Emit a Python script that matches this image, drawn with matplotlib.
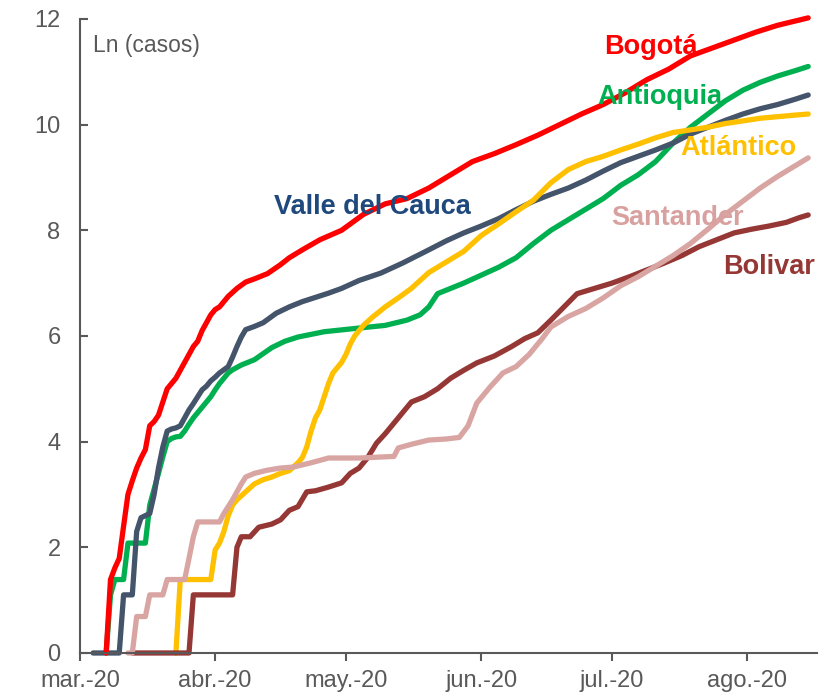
import numpy as np
import matplotlib
matplotlib.use("Agg")
import matplotlib.pyplot as plt

plt.rcParams['font.family'] = ['Liberation Sans', 'DejaVu Sans']

# days since 2020-03-01 and ln(cases)
bogota_days = [6, 7, 8, 9, 10, 11, 12, 13, 14, 15, 16, 17, 18, 19, 20, 21, 22, 23, 24, 25, 26, 27, 28, 29, 30,
               31, 32, 33, 34, 36, 38, 40, 43, 46, 48, 51, 55, 60, 65, 70, 75, 80, 85, 90, 95, 100, 105, 110,
               115, 120, 125, 130, 135, 140, 145, 150, 155, 160, 167]
bogota = [0, 1.39, 1.61, 1.79, 2.4, 3.0, 3.26, 3.5, 3.69, 3.85, 4.3, 4.38, 4.5, 4.75, 5.0, 5.1, 5.2, 5.35, 5.5,
          5.65, 5.8, 5.9, 6.1, 6.25, 6.4, 6.5, 6.55, 6.65, 6.75, 6.9, 7.02, 7.08, 7.18, 7.35, 7.48, 7.63, 7.82,
          8.0, 8.3, 8.5, 8.6, 8.8, 9.05, 9.3, 9.45, 9.62, 9.8, 10.0, 10.2, 10.38, 10.6, 10.85, 11.05, 11.3,
          11.45, 11.6, 11.75, 11.88, 12.02]

antioquia_days = [6, 7, 8, 9, 10, 11, 12, 13, 14, 15, 16, 17, 18, 19, 20, 21, 22, 23, 24, 25, 26, 27, 28, 29,
                  30, 31, 32, 33, 34, 35, 37, 40, 44, 47, 50, 56, 64, 70, 75, 78, 80, 82, 85, 88, 92, 96, 100,
                  104, 108, 112, 116, 120, 124, 128, 132, 136, 140, 144, 148, 152, 156, 160, 164, 167]
antioquia = [0, 1.1, 1.39, 1.39, 1.39, 2.08, 2.08, 2.08, 2.08, 2.08, 2.8, 3.1, 3.4, 3.71, 4.0, 4.06, 4.09, 4.1,
             4.2, 4.33, 4.45, 4.55, 4.65, 4.75, 4.85, 4.98, 5.1, 5.2, 5.3, 5.36, 5.45, 5.55, 5.78, 5.9, 5.98,
             6.08, 6.15, 6.2, 6.3, 6.4, 6.55, 6.8, 6.9, 7.0, 7.15, 7.3, 7.48, 7.75, 8.0, 8.2, 8.4, 8.6, 8.85,
             9.05, 9.3, 9.65, 9.95, 10.2, 10.45, 10.65, 10.8, 10.92, 11.02, 11.1]

valle_days = [3, 9, 10, 11, 12, 13, 14, 15, 16, 17, 18, 19, 20, 21, 22, 23, 24, 25, 26, 27, 28, 29, 30, 31, 32,
              33, 34, 35, 36, 37, 38, 40, 42, 45, 48, 51, 54, 57, 60, 64, 69, 74, 80, 84, 88, 92, 96, 100, 104,
              108, 112, 116, 120, 124, 128, 132, 136, 140, 144, 148, 152, 156, 160, 164, 167]
valle = [0, 0, 1.1, 1.1, 1.1, 2.3, 2.56, 2.6, 2.64, 3.0, 3.5, 3.9, 4.2, 4.24, 4.26, 4.3, 4.45, 4.6, 4.72, 4.85,
         4.98, 5.05, 5.15, 5.22, 5.3, 5.36, 5.42, 5.6, 5.8, 5.98, 6.12, 6.18, 6.25, 6.43, 6.55, 6.65, 6.73, 6.81,
         6.9, 7.05, 7.19, 7.38, 7.63, 7.8, 7.95, 8.08, 8.22, 8.39, 8.55, 8.68, 8.8, 8.95, 9.12, 9.28, 9.4, 9.52,
         9.65, 9.82, 9.95, 10.08, 10.2, 10.3, 10.38, 10.48, 10.56]

atlantico_days = [22, 23, 30, 31, 32, 33, 34, 35, 36, 38, 40, 42, 44, 46, 48, 50, 51, 52, 53, 54, 55, 56, 57, 58,
                  59, 60, 61, 62, 63, 64, 65, 67, 70, 73, 76, 80, 84, 88, 92, 96, 100, 104, 108, 112, 116, 120,
                  124, 128, 132, 136, 140, 144, 148, 152, 156, 160, 164, 167]
atlantico = [0, 1.39, 1.39, 1.95, 2.08, 2.3, 2.6, 2.8, 2.9, 3.05, 3.2, 3.28, 3.33, 3.4, 3.45, 3.6, 3.7, 3.9, 4.2,
             4.45, 4.6, 4.85, 5.1, 5.3, 5.4, 5.5, 5.65, 5.85, 6.0, 6.1, 6.2, 6.35, 6.55, 6.72, 6.9, 7.2, 7.4, 7.6,
             7.9, 8.12, 8.35, 8.57, 8.9, 9.15, 9.3, 9.4, 9.52, 9.63, 9.75, 9.85, 9.9, 9.95, 10.02, 10.07, 10.12,
             10.15, 10.18, 10.2]

santander_days = [11, 12, 13, 15, 16, 19, 20, 24, 25, 26, 27, 32, 33, 34, 35, 36, 37, 38, 40, 43, 46, 49, 53, 57,
                  64, 72, 73, 76, 80, 84, 87, 89, 91, 94, 97, 100, 103, 106, 108, 112, 116, 120, 124, 128, 132,
                  136, 140, 144, 148, 152, 156, 160, 164, 167]
santander = [0, 0, 0.69, 0.69, 1.1, 1.1, 1.39, 1.39, 1.79, 2.2, 2.48, 2.48, 2.64, 2.77, 2.9, 3.05, 3.2, 3.33,
             3.4, 3.46, 3.5, 3.52, 3.6, 3.69, 3.69, 3.72, 3.88, 3.95, 4.03, 4.05, 4.08, 4.3, 4.73, 5.03, 5.3, 5.42,
             5.65, 5.95, 6.17, 6.37, 6.52, 6.72, 6.95, 7.12, 7.32, 7.52, 7.75, 8.02, 8.3, 8.55, 8.8, 9.02, 9.22,
             9.37]

bolivar_days = [12, 25, 26, 35, 36, 37, 39, 41, 44, 46, 48, 50, 52, 54, 57, 60, 62, 64, 66, 68, 70, 72, 74, 76,
                79, 82, 85, 88, 91, 95, 99, 102, 105, 108, 111, 114, 118, 122, 126, 130, 134, 138, 142, 146, 150,
                154, 158, 162, 165, 167]
bolivar = [0, 0, 1.1, 1.1, 2.0, 2.2, 2.2, 2.38, 2.44, 2.52, 2.7, 2.77, 3.05, 3.07, 3.14, 3.22, 3.4, 3.5, 3.7,
           3.97, 4.15, 4.35, 4.55, 4.75, 4.85, 5.0, 5.2, 5.35, 5.49, 5.62, 5.8, 5.95, 6.06, 6.3, 6.55, 6.8, 6.9,
           7.0, 7.12, 7.25, 7.38, 7.52, 7.69, 7.82, 7.95, 8.02, 8.08, 8.15, 8.24, 8.29]

month_ticks = ['2020-03-01', '2020-04-01', '2020-05-01', '2020-06-01', '2020-07-01', '2020-08-01']
month_labels = ['mar.-20', 'abr.-20', 'may.-20', 'jun.-20', 'jul.-20', 'ago.-20']

start = np.datetime64('2020-03-01')


def to_dates(days):
    return start + np.array(days).astype('timedelta64[D]')


fig = plt.figure(figsize=(8.28, 6.96), dpi=100)
ax = fig.add_axes([0.0966, 0.0618, 0.89, 0.911])

gray = '#595959'
lw = 3.8
series = [
    (antioquia_days, antioquia, '#00B050'),
    (valle_days, valle, '#44546A'),
    (bogota_days, bogota, '#FF0000'),
    (atlantico_days, atlantico, '#FFC000'),
    (bolivar_days, bolivar, '#953735'),
    (santander_days, santander, '#D9A5A3'),
]
for days, vals, col in series:
    ax.plot(to_dates(days), vals, color=col, lw=lw, solid_capstyle='round', solid_joinstyle='round',
            clip_on=False)

# labels
labels = [
    ('Bogotá', 131, 11.47, '#FF0000'),
    ('Antioquia', 132.8, 10.52, '#00B050'),
    ('Atlántico', 150.9, 9.56, '#FFC000'),
    ('Valle del Cauca', 67.4, 8.44, '#1F497D'),
    ('Santander', 136.9, 8.23, '#D9A0A0'),
    ('Bolivar', 157.6, 7.31, '#953735'),
]
for txt, d, v, col in labels:
    ax.text(start + np.timedelta64(int(round(d)), 'D'), v, txt, color=col, fontsize=19.5,
            fontweight='bold', ha='center', va='center', zorder=5)

ax.text(start + np.timedelta64(3, 'D'), 11.5, 'Ln (casos)', color=gray, fontsize=16.5,
        ha='left', va='center')

ax.set_xlim(start, np.datetime64('2020-08-17'))
ax.set_ylim(0, 12)
ax.set_yticks(range(0, 13, 2))
ax.set_xticks([np.datetime64(t) for t in month_ticks])
ax.set_xticklabels(month_labels)

for s in ['top', 'right']:
    ax.spines[s].set_visible(False)
for s in ['left', 'bottom']:
    ax.spines[s].set_color(gray)
    ax.spines[s].set_linewidth(1.5)

ax.tick_params(axis='y', direction='in', length=6, width=1.5, color=gray, labelcolor=gray,
               labelsize=17, pad=14)
ax.tick_params(axis='x', direction='out', length=6, width=1.5, color=gray, labelcolor=gray,
               labelsize=17, pad=6)

fig.savefig('out.png', dpi=100)
